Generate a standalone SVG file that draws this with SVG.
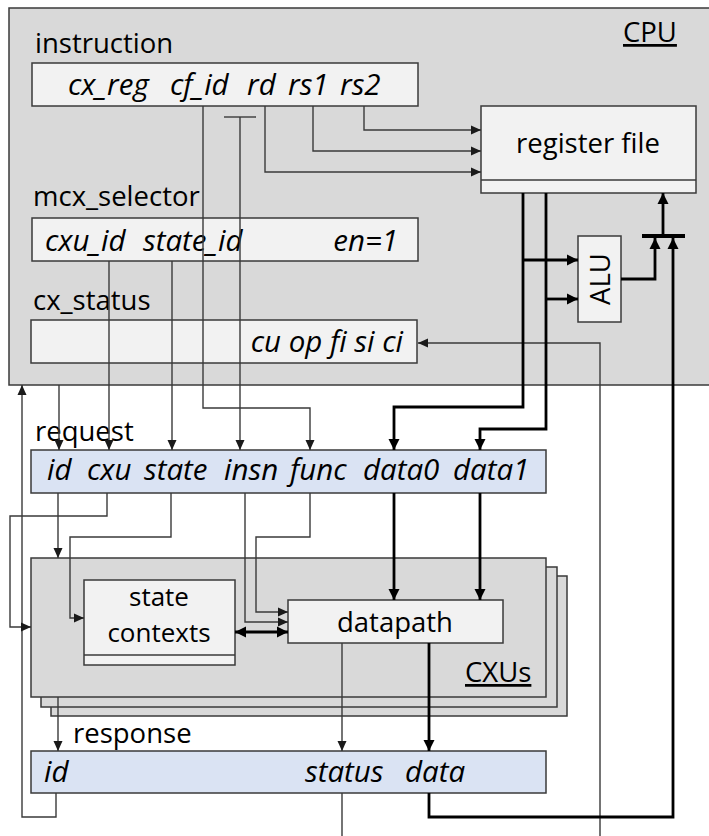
<svg xmlns="http://www.w3.org/2000/svg" width="709" height="836" viewBox="0 0 709 836">
<defs>
<marker id="ah" markerUnits="userSpaceOnUse" markerWidth="11" markerHeight="10" refX="10" refY="5" orient="auto-start-reverse"><path d="M0,0.5 L10,5 L0,9.5 z" fill="#1a1a1a"/></marker>
<marker id="ahk" markerUnits="userSpaceOnUse" markerWidth="12" markerHeight="12" refX="11" refY="6" orient="auto-start-reverse"><path d="M0,0.5 L11,6 L0,11.5 z" fill="#000"/></marker>
</defs>
<style>
text{font-family:"Open Sans","Noto Sans","Liberation Sans",sans-serif;fill:#000;}
.lbl{font-size:27.5px;}
.sc{font-size:26px;}
.it{font-size:29.5px;font-style:italic;}
.box{fill:#f2f2f2;stroke:#3a3a3a;stroke-width:1.5;}
.blue{fill:#dae3f3;stroke:#3a3a3a;stroke-width:1.5;}
.grey{fill:#d9d9d9;stroke:#3a3a3a;stroke-width:1.5;}
.thin{fill:none;stroke:#3a3a3a;stroke-width:1.4;}
.thick{fill:none;stroke:#000;stroke-width:2.8;}
.ta{marker-end:url(#ah);}
.ka{marker-end:url(#ahk);}
</style>
<rect width="709" height="836" fill="#fff"/>

<g id="cpu">
<rect class="grey" x="9" y="8" width="708" height="377"/>
<text class="lbl" x="623" y="42" text-decoration="underline">CPU</text>
</g>

<g id="instruction">
<text class="lbl" x="35" y="53">instruction</text>
<rect class="box" x="32" y="63" width="386" height="43"/>
<text class="it" x="68" y="95">cx_reg</text>
<text class="it" x="170" y="95">cf_id</text>
<text class="it" x="247" y="95">rd</text>
<text class="it" x="288" y="95">rs1</text>
<text class="it" x="340" y="95">rs2</text>
</g>

<g id="register-file">
<rect class="box" x="481" y="106" width="215" height="87"/>
<line x1="481" y1="180" x2="696" y2="180" stroke="#3a3a3a" stroke-width="1.5"/>
<text class="lbl" x="588" y="153" text-anchor="middle">register file</text>
</g>

<g id="mcx-selector">
<text class="lbl" x="33" y="206">mcx_selector</text>
<rect class="box" x="32" y="218" width="386" height="43"/>
<text class="it" x="45" y="251">cxu_id</text>
<text class="it" x="143" y="251">state_id</text>
<text class="it" x="398" y="251" text-anchor="end">en=1</text>
</g>

<g id="cx-status">
<text class="lbl" x="33" y="310">cx_status</text>
<rect class="box" x="31" y="320" width="386" height="43"/>
<text class="it" x="403" y="352" text-anchor="end">cu op fi si ci</text>
</g>

<g id="alu">
<rect class="box" x="578" y="236" width="43" height="86"/>
<text class="lbl" transform="translate(610,279) rotate(-90)" text-anchor="middle">ALU</text>
</g>

<g id="request">
<text class="lbl" x="35" y="441">request</text>
<rect class="blue" x="31" y="450" width="515" height="43"/>
<text class="it" x="47" y="480">id</text>
<text class="it" x="87" y="480">cxu</text>
<text class="it" x="144" y="480">state</text>
<text class="it" x="224" y="480">insn</text>
<text class="it" x="290" y="480">func</text>
<text class="it" x="363" y="480">data0</text>
<text class="it" x="453" y="480">data1</text>
</g>

<g id="cxus">
<rect class="grey" x="51" y="576" width="516" height="140"/>
<rect class="grey" x="41" y="567" width="516" height="140"/>
<rect class="grey" x="31" y="558" width="515" height="139"/>
<text class="lbl" x="465" y="682" text-decoration="underline">CXUs</text>
</g>

<g id="state-contexts">
<rect class="box" x="84" y="580" width="151" height="85"/>
<line x1="84" y1="655" x2="235" y2="655" stroke="#3a3a3a" stroke-width="1.5"/>
<text class="sc" x="159" y="606" text-anchor="middle">state</text>
<text class="sc" x="159" y="642" text-anchor="middle">contexts</text>
</g>

<g id="datapath">
<rect class="box" x="288" y="600" width="215" height="43"/>
<text class="lbl" x="395" y="632" text-anchor="middle">datapath</text>
</g>

<g id="response">
<text class="lbl" x="73" y="743">response</text>
<rect class="blue" x="31" y="751" width="515" height="42"/>
<text class="it" x="44" y="782">id</text>
<text class="it" x="305" y="782">status</text>
<text class="it" x="405" y="782">data</text>
</g>

<g id="connectors">
<path class="thin ta" d="M364,106 V130 H481"/>
<path class="thin ta" d="M313,106 V151 H481"/>
<path class="thin ta" d="M265,106 V172 H481"/>
<path class="thin ta" d="M203,106 V408 H310 V450"/>
<path class="thin" d="M224,117 H256"/>
<path class="thin ta" d="M240,117 V450"/>
<path class="thin ta" d="M109,261 V450"/>
<path class="thin ta" d="M172,261 V450"/>
<path class="thin ta" d="M59,385 V450"/>
<path class="thin ta" d="M600,836 V343 H418"/>
<path class="thin ta" d="M56,793 V817 H22 V385"/>
<path class="thin ta" d="M58,493 V558"/>
<path class="thin ta" d="M107,493 V516 H10 V627 H31"/>
<path class="thin ta" d="M171,493 V537 H70 V618 H84"/>
<path class="thin ta" d="M245,493 V622 H288"/>
<path class="thin ta" d="M310,493 V537 H256 V612 H288"/>
<path class="thin ta" d="M342,643 V751"/>
<path class="thin ta" d="M58,697 V751"/>
<path class="thin" d="M342,793 V836"/>

<path class="thick ka" d="M523,193 V407 H394 V450"/>
<path class="thick ka" d="M546,193 V429 H480 V450"/>
<path class="thick ka" d="M523,260 H578"/>
<path class="thick ka" d="M546,299 H578"/>
<path class="thick ka" d="M621,279 H655 V238"/>
<path fill="none" stroke="#000" stroke-width="4" d="M642,236 H685"/>
<path class="thick ka" d="M663,236 V193"/>
<path class="thick ka" d="M429,793 V817 H673 V238"/>
<path class="thick ka" d="M394,493 V600"/>
<path class="thick ka" d="M480,493 V600"/>
<path class="thick" marker-start="url(#ahk)" marker-end="url(#ahk)" d="M235,632 H288"/>
<path class="thick ka" d="M429,643 V751"/>
</g>
</svg>
